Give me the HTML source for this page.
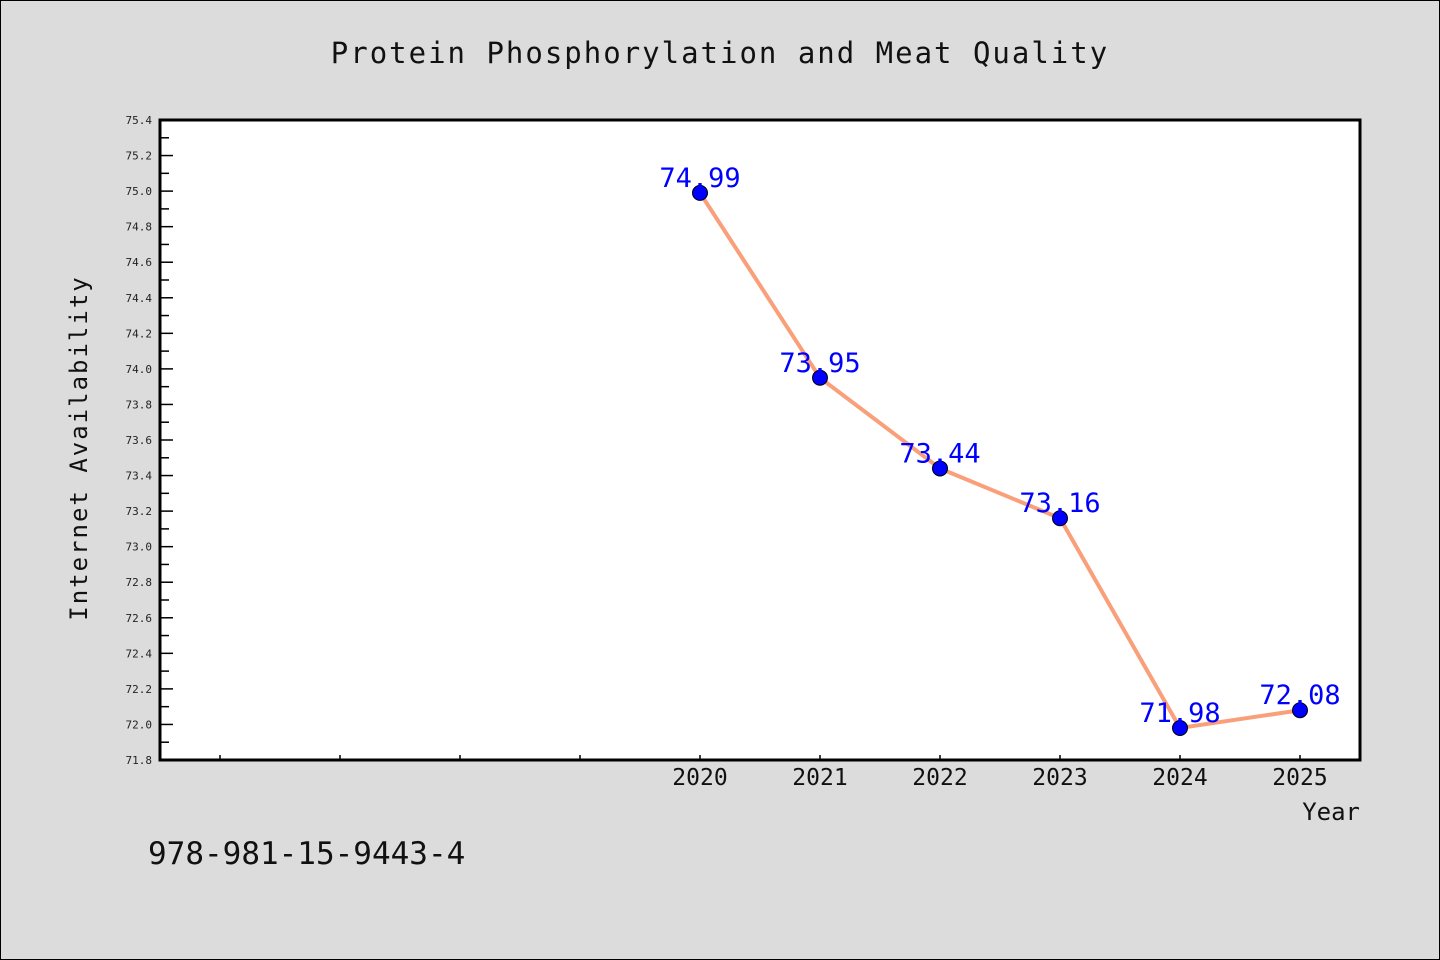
<!DOCTYPE html>
<html><head><meta charset="utf-8"><style>
html,body{margin:0;padding:0;background:#dcdcdc;}
svg{display:block;font-family:"WenQuanYi Zen Hei","DejaVu Sans Mono",monospace;}
</style></head><body>
<svg width="1440" height="960" viewBox="0 0 1440 960">
<rect x="0.5" y="0.5" width="1439" height="959" fill="#dcdcdc" stroke="#000"/>
<text x="720" y="63" text-anchor="middle" font-size="29" letter-spacing="2" fill="#111">Protein Phosphorylation and Meat Quality</text>
<rect x="160" y="120" width="1200" height="640" fill="#fff"/>
<g id="yticks"></g><g id="xticks"></g>
<rect x="160" y="120" width="1200" height="640" fill="none" stroke="#000" stroke-width="3"/>
<g id="series"></g>
<text x="87" y="448" transform="rotate(-90 87 448)" text-anchor="middle" font-size="24" letter-spacing="2" fill="#111">Internet Availability</text>
<text x="1360" y="820" text-anchor="end" font-size="24" fill="#111">Year</text>
<text x="148" y="864" font-size="31" fill="#111">978-981-15-9443-4</text>
</svg>
<script>
const years=[2020,2021,2022,2023,2024,2025];
const values=[74.99,73.95,73.44,73.16,71.98,72.08];
const valueLabels=["74.99","73.95","73.44","73.16","71.98","72.08"];
const yTicks=[71.8,72.0,72.2,72.4,72.6,72.8,73.0,73.2,73.4,73.6,73.8,74.0,74.2,74.4,74.6,74.8,75.0,75.2,75.4];
const xMinorTicks=[2016,2017,2018,2019];
const NS="http://www.w3.org/2000/svg";
const X=v=>160+(v-2015.5)*120, Y=v=>760-(v-71.8)/3.6*640;
function mk(t,a,p,txt){const e=document.createElementNS(NS,t);for(const k in a)e.setAttribute(k,a[k]);if(txt!=null)e.textContent=txt;p.appendChild(e);return e;}
const yt=document.getElementById('yticks');
yTicks.forEach(v=>{
 const l=mk('line',{x1:160,x2:173,y1:Y(v),y2:Y(v),stroke:'#000','stroke-width':1.5},yt);
 
 const t=mk('text',{x:152,y:Y(v)+4,'text-anchor':'end','font-size':11,fill:'#222'},yt,v.toFixed(1));
 
 const m=mk('line',{x1:160,x2:169,y1:Y(v+0.1),y2:Y(v+0.1),stroke:'#000','stroke-width':1.5},yt);
 if(v>=75.4)m.remove();
 
});
const xt=document.getElementById('xticks');
xMinorTicks.concat(years).forEach(v=>{
 const l=mk('line',{x1:X(v),x2:X(v),y1:760,y2:755,stroke:'#000','stroke-width':1.5},xt);
 
});
years.forEach(v=>{
 const t=mk('text',{x:X(v),y:785,'text-anchor':'middle','font-size':23,fill:'#111'},xt,String(v));
 
});
const s=document.getElementById('series');
const pl=mk('polyline',{points:years.map((y,i)=>X(y)+','+Y(values[i])).join(' '),fill:'none',stroke:'#f9a07a','stroke-width':4},s);

years.forEach((y,i)=>{
 const c=mk('circle',{cx:X(y),cy:Y(values[i]),r:7.5,fill:'#0000ff',stroke:'#000','stroke-width':1},s);
 
 const t=mk('text',{x:X(y),y:Y(values[i])-6,'text-anchor':'middle','font-size':27,fill:'#0000ff'},s,valueLabels[i]);
 
});
</script>
</body></html>
